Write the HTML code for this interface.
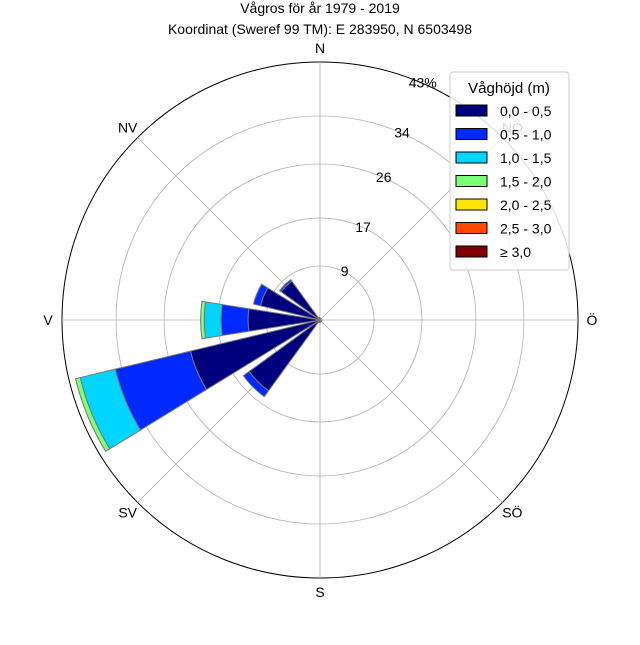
<!DOCTYPE html>
<html><head><meta charset="utf-8"><style>
body{margin:0;background:#fff;font-family:"Liberation Sans",sans-serif}
svg text{font-family:"Liberation Sans",sans-serif;fill:#000}
</style></head><body>
<svg id="c" width="640" height="640" viewBox="0 0 640 640">
<text x="320" y="13" text-anchor="middle" font-size="14">Vågros för år 1979 - 2019</text>
<text x="320" y="34" text-anchor="middle" font-size="14">Koordinat (Sweref 99 TM): E 283950, N 6503498</text>
<g id="grid"></g><g id="bars"></g><g id="labels"></g>
<g id="legend"></g>
</svg>
<script>
const dirs=["N","NNÖ","NÖ","ÖNÖ","Ö","ÖSÖ","SÖ","SSÖ","S","SSV","SV","VSV","V","VNV","NV","NNV"];
// cumulative-free per-bin percentages per direction, bins 0-0.5,0.5-1,1-1.5,1.5-2,2-2.5,2.5-3,>=3
const bin0=[0.3,0.2,0.2,0.2,0.2,0.2,0.3,0.3,0.4,0.5,14.6,22.2,12.0,10.2,8.0,0.5];
const bin1=[0,0,0,0,0,0,0,0,0,0,1.2,12.9,4.5,1.2,0.3,0];
const bin2=[0,0,0,0,0,0,0,0,0,0,0,6.0,2.8,0,0,0];
const bin3=[0,0,0,0,0,0,0,0,0,0,0,0.8,0.6,0,0,0];
const bin4=[0,0,0,0,0,0,0,0,0,0,0,0,0,0,0,0];
const bin5=[0,0,0,0,0,0,0,0,0,0,0,0,0,0,0,0];
const bin6=[0,0,0,0,0,0,0,0,0,0,0,0,0,0,0,0];
const binLabels=["0,0 - 0,5","0,5 - 1,0","1,0 - 1,5","1,5 - 2,0","2,0 - 2,5","2,5 - 3,0","≥ 3,0"];
const ringTicks=[9,17,26,34,43];
const ringLabels=["9","17","26","34","43%"];
const colors=["#00007f","#0029ff","#00d5ff","#7cff79","#ffe600","#ff4a00","#7f0000"];
const bins=[bin0,bin1,bin2,bin3,bin4,bin5,bin6];
const cx=320,cy=320,R=258,maxV=43;
const ns="http://www.w3.org/2000/svg";
function r(v){return v/maxV*R;}
function pt(rad,deg){const a=deg*Math.PI/180;return [cx+rad*Math.sin(a),cy-rad*Math.cos(a)];}
function mk(tag,attrs,parent){const e=document.createElementNS(ns,tag);for(const k in attrs)e.setAttribute(k,attrs[k]);parent.appendChild(e);return e;}
const grid=document.getElementById('grid'),bars=document.getElementById('bars'),labels=document.getElementById('labels'),leg=document.getElementById('legend');
ringTicks.forEach((t,i)=>{
 const c=mk('circle',{cx:cx,cy:cy,r:r(t),fill:'none',stroke:i==ringTicks.length-1?'#000':'#b0b0b0','stroke-width':i==ringTicks.length-1?1:0.8},grid);
 
 
 const p=pt(r(t),22.5);
 const tx=mk('text',{x:p[0]+4,y:p[1]+6,'font-size':14,'text-anchor':'middle'},labels);
 tx.textContent=ringLabels[i];
 
 
});
for(let k=0;k<8;k++){const p=pt(R,k*45);
 const l=mk('line',{x1:cx,y1:cy,x2:p[0],y2:p[1],stroke:'#b0b0b0','stroke-width':0.8},grid);
 
 }
const dl=["N","NÖ","Ö","SÖ","S","SV","V","NV"];
dl.forEach((d,k)=>{const p=pt(R+14,k*45);
 const t=mk('text',{x:p[0],y:p[1]+5,'font-size':14,'text-anchor':'middle'},labels);
 t.textContent=d;
 
 });
const half=9;
dirs.forEach((d,i)=>{let base=0;const ang=i*22.5;
 bins.forEach((b,j)=>{const v=b[i];if(v<=0)return;const r0=r(base),r1=r(base+v);base+=v;
  const a0=ang-half,a1=ang+half;const p1=pt(r0,a0),p2=pt(r1,a0),p3=pt(r1,a1),p4=pt(r0,a1);
  const dd=`M${p1[0]},${p1[1]}L${p2[0]},${p2[1]}A${r1},${r1} 0 0 1 ${p3[0]},${p3[1]}L${p4[0]},${p4[1]}`+(r0>0?`A${r0},${r0} 0 0 0 ${p1[0]},${p1[1]}`:'')+'Z';
  const e=mk('path',{d:dd,fill:colors[j],stroke:'#777','stroke-width':1},bars);
  
  
 });});
const bg=mk('rect',{x:450,y:72,width:119,height:198,rx:3,fill:'#fff','fill-opacity':0.85,stroke:'#ccc'},leg);


const lt=mk('text',{x:509,y:93,'font-size':15,'text-anchor':'middle'},leg);
lt.textContent="Våghöjd (m)";


binLabels.forEach((s,j)=>{const y=105+j*23.5;
 const sw=mk('rect',{x:456,y:y,width:31,height:11,fill:colors[j],stroke:'#000','stroke-width':1},leg);
 
 
 const t=mk('text',{x:500,y:y+11,'font-size':14},leg);
 t.textContent=s;
 
 });
</script>
</body></html>
